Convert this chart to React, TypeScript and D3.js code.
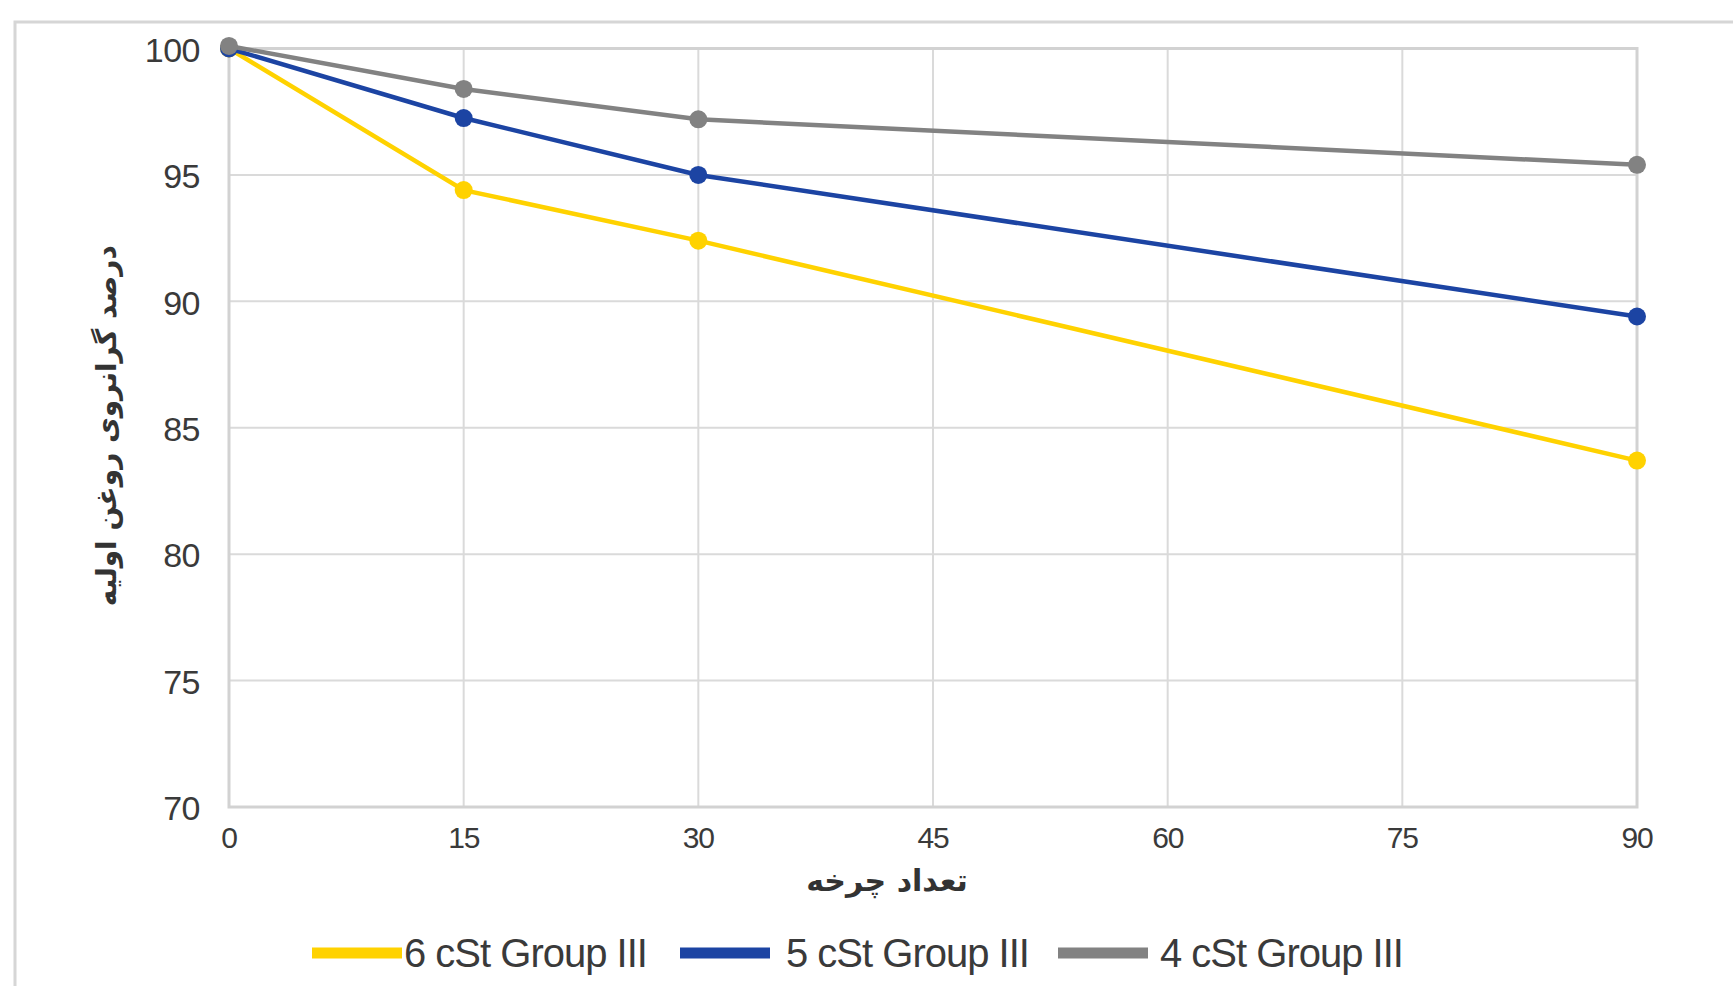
import { useEffect, useRef } from "react";
import * as d3 from "d3";

// cycles on the x axis
const cycles = [0, 15, 30, 90];
const xTicks = [0, 15, 30, 45, 60, 75, 90];
const yTicks = [70, 75, 80, 85, 90, 95, 100];

// percentage of initial oil viscosity
const sixCst = [100, 94.4, 92.4, 83.7];
const fiveCst = [100, 97.25, 95.0, 89.4];
const fourCst = [100.1, 98.4, 97.2, 95.4];

const seriesNames = ["6 cSt Group III", "5 cSt Group III", "4 cSt Group III"];
const seriesColors = ["#FFD200", "#1C44A3", "#828282"];

const xTitle = "تعداد چرخه";
const yTitle = "درصد گرانروی روغن اولیه";

export default function App() {
  const svgRef = useRef<SVGSVGElement | null>(null);

  useEffect(() => {
    if (!svgRef.current) return;
    const svg = d3.select(svgRef.current);
    svg.html("");

    const W = 1733;
    const H = 986;
    const left = 229, right = 1637, top = 48.5, bottom = 807;

    const x = d3.scaleLinear().domain([0, 90]).range([left, right]);
    const y = d3.scaleLinear().domain([70, 100]).range([bottom, top]);

    svg.append("rect").attr("width", W).attr("height", H).attr("fill", "#fff");

    // outer frame (cut off at right and bottom)
    svg.append("rect")
      .attr("x", 15).attr("y", 22)
      .attr("width", W + 50).attr("height", H + 50)
      .attr("fill", "none").attr("stroke", "#d6d6d6").attr("stroke-width", 3);

    const grid = svg.append("g");
    grid.selectAll("line.h").data(yTicks).join("line")
      .attr("x1", left).attr("x2", right)
      .attr("y1", d => y(d)).attr("y2", d => y(d))
      .attr("stroke", "#dadada").attr("stroke-width", 2);
    grid.selectAll("line.v").data(xTicks).join("line")
      .attr("y1", top).attr("y2", bottom)
      .attr("x1", d => x(d)).attr("x2", d => x(d))
      .attr("stroke", "#dadada").attr("stroke-width", 2);
    grid.append("rect")
      .attr("x", left).attr("y", top)
      .attr("width", right - left).attr("height", bottom - top)
      .attr("fill", "none").attr("stroke", "#d2d2d2").attr("stroke-width", 3);

    const font = "'Liberation Sans', Arial, sans-serif";

    svg.append("g").selectAll("text").data(yTicks).join("text")
      .attr("x", left - 29).attr("y", d => y(d) + 1)
      .attr("dy", "0.36em")
      .attr("text-anchor", "end")
      .attr("font-family", font).attr("font-size", 34)
      .attr("letter-spacing", -0.5)
      .attr("fill", "#3a3a3a")
      .text(d => String(d));

    svg.append("g").selectAll("text").data(xTicks).join("text")
      .attr("x", d => x(d)).attr("y", 837)
      .attr("dy", "0.36em")
      .attr("text-anchor", "middle")
      .attr("font-family", font).attr("font-size", 30)
      .attr("letter-spacing", -1.2)
      .attr("fill", "#3a3a3a")
      .text(d => String(d));

    svg.append("text")
      .attr("x", 887).attr("y", 880)
      .attr("dy", "0.36em")
      .attr("text-anchor", "middle")
      .attr("direction", "rtl")
      .attr("font-family", "'DejaVu Sans', sans-serif")
      .attr("font-weight", "bold").attr("font-size", 30)
      .attr("fill", "#333")
      .text(xTitle);

    svg.append("text")
      .attr("transform", `translate(106, ${(top + bottom) / 2 - 2}) rotate(-90)`)
      .attr("dy", "0.36em")
      .attr("text-anchor", "middle")
      .attr("direction", "rtl")
      .attr("font-family", "'DejaVu Sans', sans-serif")
      .attr("font-weight", "bold").attr("font-size", 28)
      .attr("fill", "#333")
      .text(yTitle);

    const allSeries = [sixCst, fiveCst, fourCst];
    const line = d3.line<number>()
      .x((_, i) => x(cycles[i]))
      .y(d => y(d));

    allSeries.forEach((vals, s) => {
      const g = svg.append("g");
      g.append("path")
        .datum(vals)
        .attr("fill", "none")
        .attr("stroke", seriesColors[s])
        .attr("stroke-width", 4.5)
        .attr("d", line);
      g.selectAll("circle").data(vals).join("circle")
        .attr("cx", (_, i) => x(cycles[i]))
        .attr("cy", d => y(d))
        .attr("r", 9)
        .attr("fill", seriesColors[s]);
    });

    // legend
    const swatchX = [312, 680, 1058];
    const labelX = [404, 786, 1160];
    const legend = svg.append("g");
    seriesNames.forEach((name, s) => {
      legend.append("line")
        .attr("x1", swatchX[s]).attr("x2", swatchX[s] + 90)
        .attr("y1", 953).attr("y2", 953)
        .attr("stroke", seriesColors[s]).attr("stroke-width", 11);
      legend.append("text")
        .attr("x", labelX[s]).attr("y", 953)
        .attr("dy", "0.36em")
        .attr("font-family", font).attr("font-size", 40)
        .attr("letter-spacing", -1)
        .attr("fill", "#3a3a3a")
        .text(name);
    });
  }, []);

  return (
    <div style={{ position: "absolute", left: 0, top: 0 }}>
      <svg ref={svgRef} width={1733} height={986} style={{ display: "block" }}></svg>
    </div>
  );
}
